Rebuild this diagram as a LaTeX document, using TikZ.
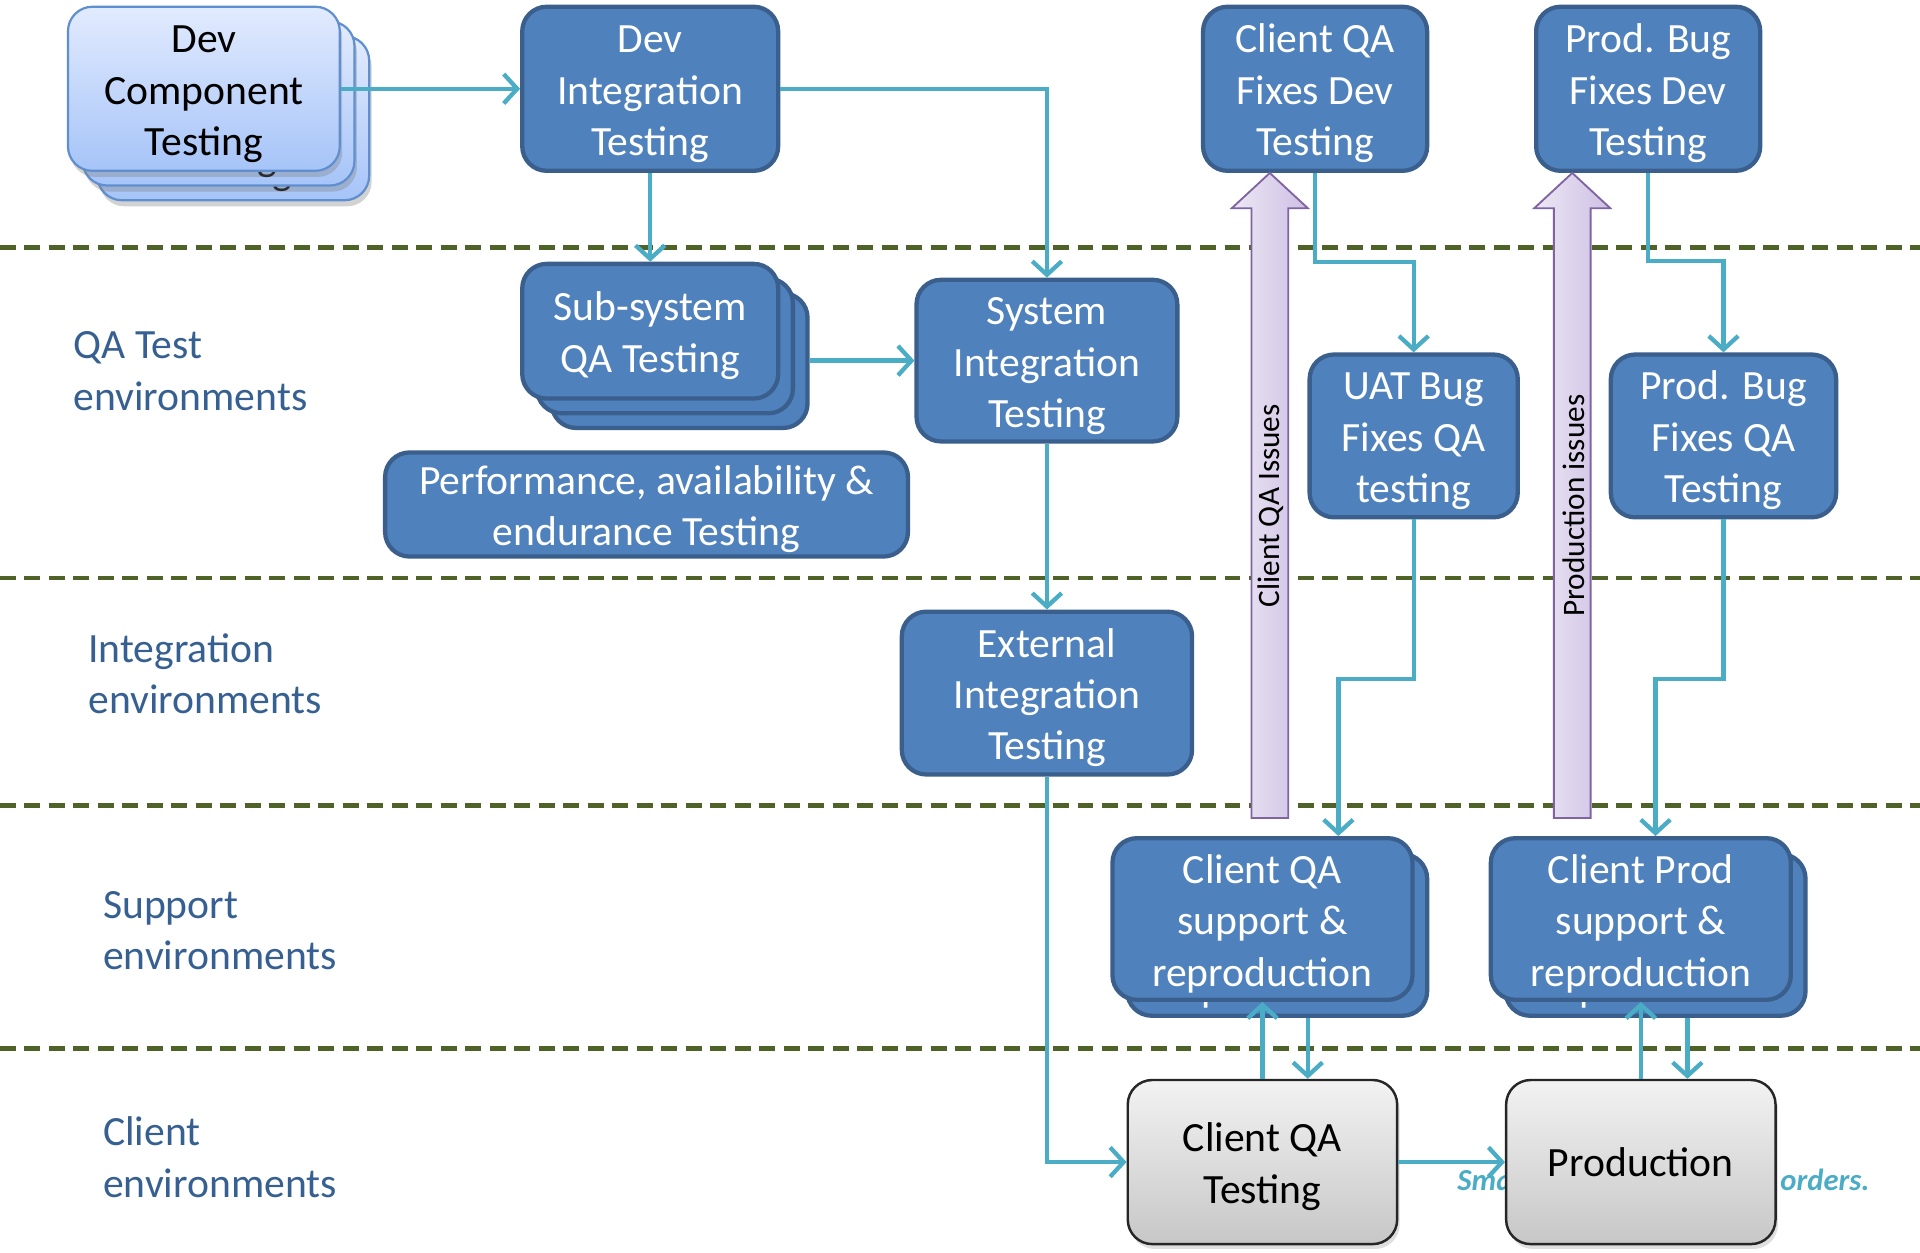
\documentclass[tikz,border=0pt]{standalone}
\usepackage{fontspec}
\setmainfont{Carlito}
\usetikzlibrary{arrows.meta,shadows,calc}

\definecolor{boxfill}{HTML}{4F81BD}
\definecolor{boxedge}{HTML}{3A5F8D}
\definecolor{flowc}{HTML}{4BACC6}
\definecolor{sepc}{HTML}{4F6228}
\definecolor{envc}{HTML}{376092}
\definecolor{paletop}{HTML}{E2EBFE}
\definecolor{palebot}{HTML}{A6C4F8}
\definecolor{paleedge}{HTML}{5F8FCF}
\definecolor{issueedge}{HTML}{8064A2}
\definecolor{issueleft}{HTML}{EDE8F4}
\definecolor{issueright}{HTML}{CDBFE4}

% tall strut opening the first line of a box, to sit the lines a little lower
\newcommand{\boxlead}{\rule{0pt}{31pt}}

\tikzset{
  boxtext/.style={font=\fontsize{34}{42}\selectfont, align=center, inner sep=0pt},
  bluebox/.style={boxtext, draw=boxedge, fill=boxfill, line width=3.5pt,
    rounded corners=20pt, text=white},
  palebox/.style={boxtext, draw=paleedge, line width=1.8pt, rounded corners=20pt,
    top color=paletop, bottom color=palebot, text=black,
    drop shadow={shadow xshift=2pt, shadow yshift=-5pt, opacity=0.35}},
  greybox/.style={boxtext, draw=black!85, line width=2pt, rounded corners=20pt,
    top color=black!5, bottom color=black!22, text=black,
    drop shadow={shadow xshift=2pt, shadow yshift=-4pt, opacity=0.25}},
  envlabel/.style={font=\fontsize{34}{42}\selectfont, align=left, text=envc,
    anchor=west, inner sep=0pt},
  sepline/.style={draw=sepc, line width=4pt, dash pattern=on 13pt off 7pt},
  flow/.style={draw=flowc, line width=3.5pt,
    -{Straight Barb[length=11pt, width=24pt, line width=3.5pt]}},
  issuearrow/.style={draw=issueedge, line width=1.5pt,
    left color=issueleft, right color=issueright},
  issuetext/.style={font=\fontsize{25.5}{30}\selectfont, rotate=90, inner sep=0pt},
  markc/.style={font=\fontsize{25}{30}\selectfont\bfseries\itshape, text=flowc,
    inner sep=0pt}
}

\begin{document}
\begin{tikzpicture}[x=1pt, y=-1pt]
\useasboundingbox (0,0) rectangle (1568,1023);
\fill[white] (0,0) rectangle (1568,1023);

% environment boundaries
\foreach \yy/\nm in {202/s1, 472/s2, 658/s3, 856/s4} {
  \coordinate (\nm a) at (0,\yy);
  \coordinate (\nm b) at (1568,\yy);
  \draw[sepline] (\nm a) -- (\nm b);
}

% environment names
\node[envlabel] (envqa)  at (60,303) {QA Test\\environments};
\node[envlabel] (envint) at (72,550) {Integration\\environments};
\node[envlabel] (envsup) at (84,760) {Support\\environments};
\node[envlabel] (envcli) at (84,945) {Client\\environments};

% developer stage
\node[palebox, minimum width=222pt, minimum height=134pt] (devcomp3) at (190.5,96.5) {\boxlead Dev\\Component\\Testing};
\node[palebox, minimum width=222pt, minimum height=134pt] (devcomp2) at (178.5,84.5) {\boxlead Dev\\Component\\Testing};
\node[palebox, minimum width=222pt, minimum height=134pt] (devcomp) at (166.5,72.5) {\boxlead Dev\\Component\\Testing};

\node[bluebox, minimum width=209pt, minimum height=134pt] (devint) at (531,72.5) {\boxlead Dev\\Integration\\Testing};
\node[bluebox, minimum width=183pt, minimum height=134pt] (cqafix) at (1074,72.5) {\boxlead Client QA\\Fixes Dev\\Testing};
\node[bluebox, minimum width=183pt, minimum height=134pt] (pbfix) at (1346,72.5) {\boxlead Prod. Bug\\Fixes Dev\\Testing};

% QA test stage
\node[bluebox, minimum width=209pt, minimum height=110pt] (subsys3) at (555,294.5) {\boxlead Sub-system\\QA Testing};
\node[bluebox, minimum width=209pt, minimum height=110pt] (subsys2) at (543,282.5) {\boxlead Sub-system\\QA Testing};
\node[bluebox, minimum width=209pt, minimum height=110pt] (subsys) at (531,270.5) {\boxlead Sub-system\\QA Testing};
\node[bluebox, minimum width=213pt, minimum height=132pt] (sysint) at (855,294.5) {\boxlead System\\Integration\\Testing};
\node[bluebox, minimum width=427pt, minimum height=85pt] (perf) at (528,412) {\boxlead Performance, availability \&\\endurance Testing};
\node[bluebox, minimum width=170pt, minimum height=133pt] (uat) at (1154.5,356) {\boxlead UAT Bug\\Fixes QA\\testing};
\node[bluebox, minimum width=184pt, minimum height=133pt] (pbqa) at (1407.5,356) {\boxlead Prod. Bug\\Fixes QA\\Testing};

% integration stage
\node[bluebox, minimum width=237pt, minimum height=133pt] (extint) at (855,566) {\boxlead External\\Integration\\Testing};

% support stage
\node[bluebox, minimum width=245pt, minimum height=132pt] (cqasupback) at (1043,763.5) {\boxlead Client QA\\support \&\\reproduction};
\node[bluebox, minimum width=245pt, minimum height=132pt] (cqasup) at (1031,750.5) {\boxlead Client QA\\support \&\\reproduction};
\node[bluebox, minimum width=245pt, minimum height=132pt] (cpsupback) at (1352,763.5) {\boxlead Client Prod\\support \&\\reproduction};
\node[bluebox, minimum width=245pt, minimum height=132pt] (cpsup) at (1340,750.5) {\boxlead Client Prod\\support \&\\reproduction};

% client stage
\node[markc, anchor=base west] (markl) at (1190,972) {Sma};
\node[markc, anchor=base east] (markr) at (1527,972) {orders.};
\node[greybox, minimum width=220pt, minimum height=134pt] (cqatest) at (1031,949) {\boxlead Client QA\\Testing};
\node[greybox, minimum width=220pt, minimum height=134pt] (prod) at (1340,949) {Production};

% issue feedback arrows
\draw[issuearrow] (1022,668) -- (1022,170) -- (1006,170) -- (cqafix.south -| 1037,0) -- (1068,170) -- (1052,170) -- (1052,668) -- cycle;
\node[issuetext] (cqaissues) at (1038,413) {Client QA Issues};
\draw[issuearrow] (1269,668) -- (1269,170) -- (1253,170) -- (pbfix.south -| 1284,0) -- (1315,170) -- (1299,170) -- (1299,668) -- cycle;
\node[issuetext] (prodissues) at (1285,413) {Production issues};

% main flow
\draw[flow] (devcomp.east) -- (devint.west);
\draw[flow] (devint.south) -- (subsys.north);
\draw[flow] (devint.east) -| (sysint.north);
\draw[flow] (subsys3.east) -- (sysint.west);
\draw[flow] (sysint.south) -- (extint.north);
\draw[flow] (extint.south) |- (cqatest.west);
\draw[flow] (cqatest.east) -- (prod.west);

% fix flow
\draw[flow] (cqafix.south) -- ++(0,73) -| (uat.north);
\draw[flow] (pbfix.south) -- ++(0,72) -| (pbqa.north);
\draw[flow] (uat.south) -- ++(0,130) -| ([xshift=62pt]cqasup.north);
\draw[flow] (pbqa.south) -- ++(0,130) -| ([xshift=12pt]cpsup.north);

% support exchanges
\draw[flow] (cqatest.north) -- (cqasup.south);
\draw[flow] ([xshift=25pt]cqasupback.south) -- ([xshift=25pt]cqasupback.south |- cqatest.north);
\draw[flow] (prod.north) -- (cpsup.south);
\draw[flow] ([xshift=26pt]cpsupback.south) -- ([xshift=26pt]cpsupback.south |- prod.north);
\end{tikzpicture}
\end{document}
